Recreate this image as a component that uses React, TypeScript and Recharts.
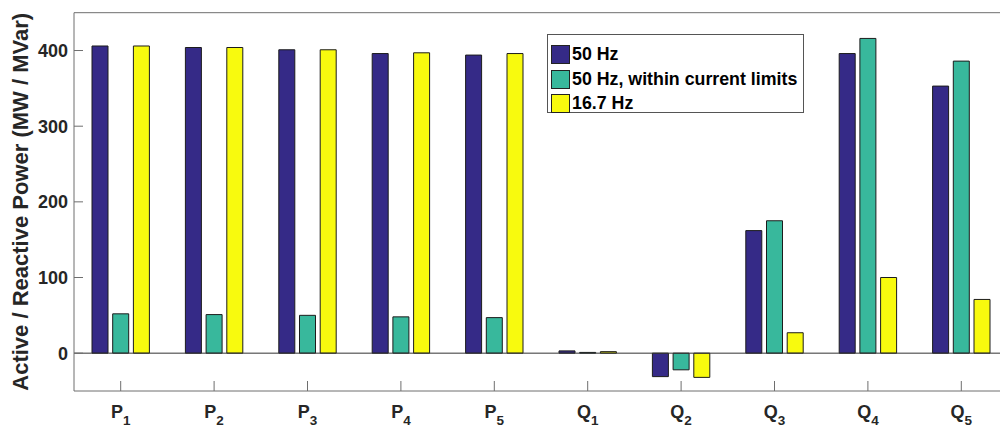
import { BarChart, Bar, XAxis, YAxis, ReferenceLine, Legend } from "recharts";

// bus quantities: active power P and reactive power Q at five buses
const categories = ["P1", "P2", "P3", "P4", "P5", "Q1", "Q2", "Q3", "Q4", "Q5"];
const hz50 = [406, 404, 401, 396, 394, 3, -31, 162, 396, 353];
const hz50Limited = [52, 51, 50, 48, 47, 1, -22, 175, 416, 386];
const hz167 = [406, 404, 401, 397, 396, 2, -32, 27, 100, 71];
const yTicks = [0, 100, 200, 300, 400];
const seriesOrder = ["hz50", "hz50Limited", "hz167"];

const data = categories.map((name, i) => ({
  name,
  hz50: hz50[i],
  hz50Limited: hz50Limited[i],
  hz167: hz167[i],
}));

const FONT = "'Liberation Sans', Arial, Helvetica, sans-serif";
const TEXT = "#262626";
const AXIS = "#6e6e6e";

function CategoryTick({ x, y, payload }: any) {
  const name = String(payload.value);
  return (
    <g transform={`translate(${x},${y})`}>
      <text textAnchor="middle" y={26.5} fill={TEXT} fontWeight="bold" fontFamily={FONT}>
        <tspan fontSize={18}>{name[0]}</tspan>
        <tspan fontSize={13.5} dy={7}>
          {name.slice(1)}
        </tspan>
      </text>
    </g>
  );
}

function YLabel({ viewBox }: any) {
  const cy = viewBox.y + viewBox.height / 2;
  return (
    <text
      x={20.5}
      y={cy}
      transform={`rotate(-90, 20.5, ${cy})`}
      textAnchor="middle"
      dominantBaseline="central"
      fill={TEXT}
      fontWeight="bold"
      fontSize={22}
      fontFamily={FONT}
    >
      Active / Reactive Power (MW / MVar)
    </text>
  );
}

function LegendBox({ payload }: any) {
  const items = [...(payload || [])].sort(
    (a: any, b: any) => seriesOrder.indexOf(a.dataKey) - seriesOrder.indexOf(b.dataKey)
  );
  return (
    <div
      style={{
        width: 257,
        height: 79,
        boxSizing: "border-box",
        border: "1px solid #555",
        background: "#fff",
        padding: "7.5px 0 0 3px",
        fontFamily: FONT,
      }}
    >
      {items.map((entry: any) => (
        <div
          key={entry.value}
          style={{ display: "flex", alignItems: "center", height: 24.5 }}
        >
          <span
            style={{
              width: 19,
              height: 19,
              boxSizing: "border-box",
              border: "1px solid #222",
              background: entry.color,
              marginRight: 2,
            }}
          />
          <span style={{ fontSize: 17.8, fontWeight: "bold", color: "#000" }}>
            {entry.value}
          </span>
        </div>
      ))}
    </div>
  );
}

export default function App() {
  return (
    <div
      style={{
        position: "absolute",
        left: 0,
        top: 0,
        width: 1000,
        height: 428,
        overflow: "hidden",
        background: "#fff",
        fontFamily: FONT,
      }}
    >
      <BarChart
        width={1020}
        height={428}
        data={data}
        margin={{ top: 11.7, right: 11, bottom: 0, left: 0 }}
        barSize={16}
        barGap={4.7}
      >
        <XAxis
          dataKey="name"
          height={37}
          interval={0}
          tickSize={-10}
          tickMargin={10}
          tick={<CategoryTick />}
          stroke={AXIS}
        />
        <XAxis
          xAxisId="top"
          dataKey="name"
          orientation="top"
          height={1}
          interval={0}
          tickSize={-10}
          tick={false}
          stroke={AXIS}
        />
        <YAxis
          width={74}
          domain={[-50, 450]}
          ticks={yTicks}
          interval={0}
          tickSize={-9}
          tickMargin={15}
          stroke={AXIS}
          tick={{ fill: TEXT, fontSize: 18, fontWeight: "bold", fontFamily: FONT }}
          label={<YLabel />}
        />
        <YAxis
          yAxisId="right"
          orientation="right"
          width={1}
          domain={[-50, 450]}
          ticks={yTicks}
          interval={0}
          tickSize={-9}
          tick={false}
          stroke={AXIS}
        />
        <ReferenceLine y={0} stroke="#333" strokeWidth={1} />
        <Legend
          layout="vertical"
          align="center"
          verticalAlign="middle"
          wrapperStyle={{ left: 547, top: 34, width: 257, height: 79 }}
          content={<LegendBox />}
        />
        <Bar dataKey="hz50" name="50 Hz" fill="#352A87" stroke="#1c1c1c" strokeWidth={1} isAnimationActive={false} />
        <Bar
          dataKey="hz50Limited"
          name="50 Hz, within current limits"
          fill="#38B89C"
          stroke="#1c1c1c"
          strokeWidth={1}
          isAnimationActive={false}
        />
        <Bar dataKey="hz167" name="16.7 Hz" fill="#F8FA0E" stroke="#1c1c1c" strokeWidth={1} isAnimationActive={false} />
      </BarChart>
    </div>
  );
}
